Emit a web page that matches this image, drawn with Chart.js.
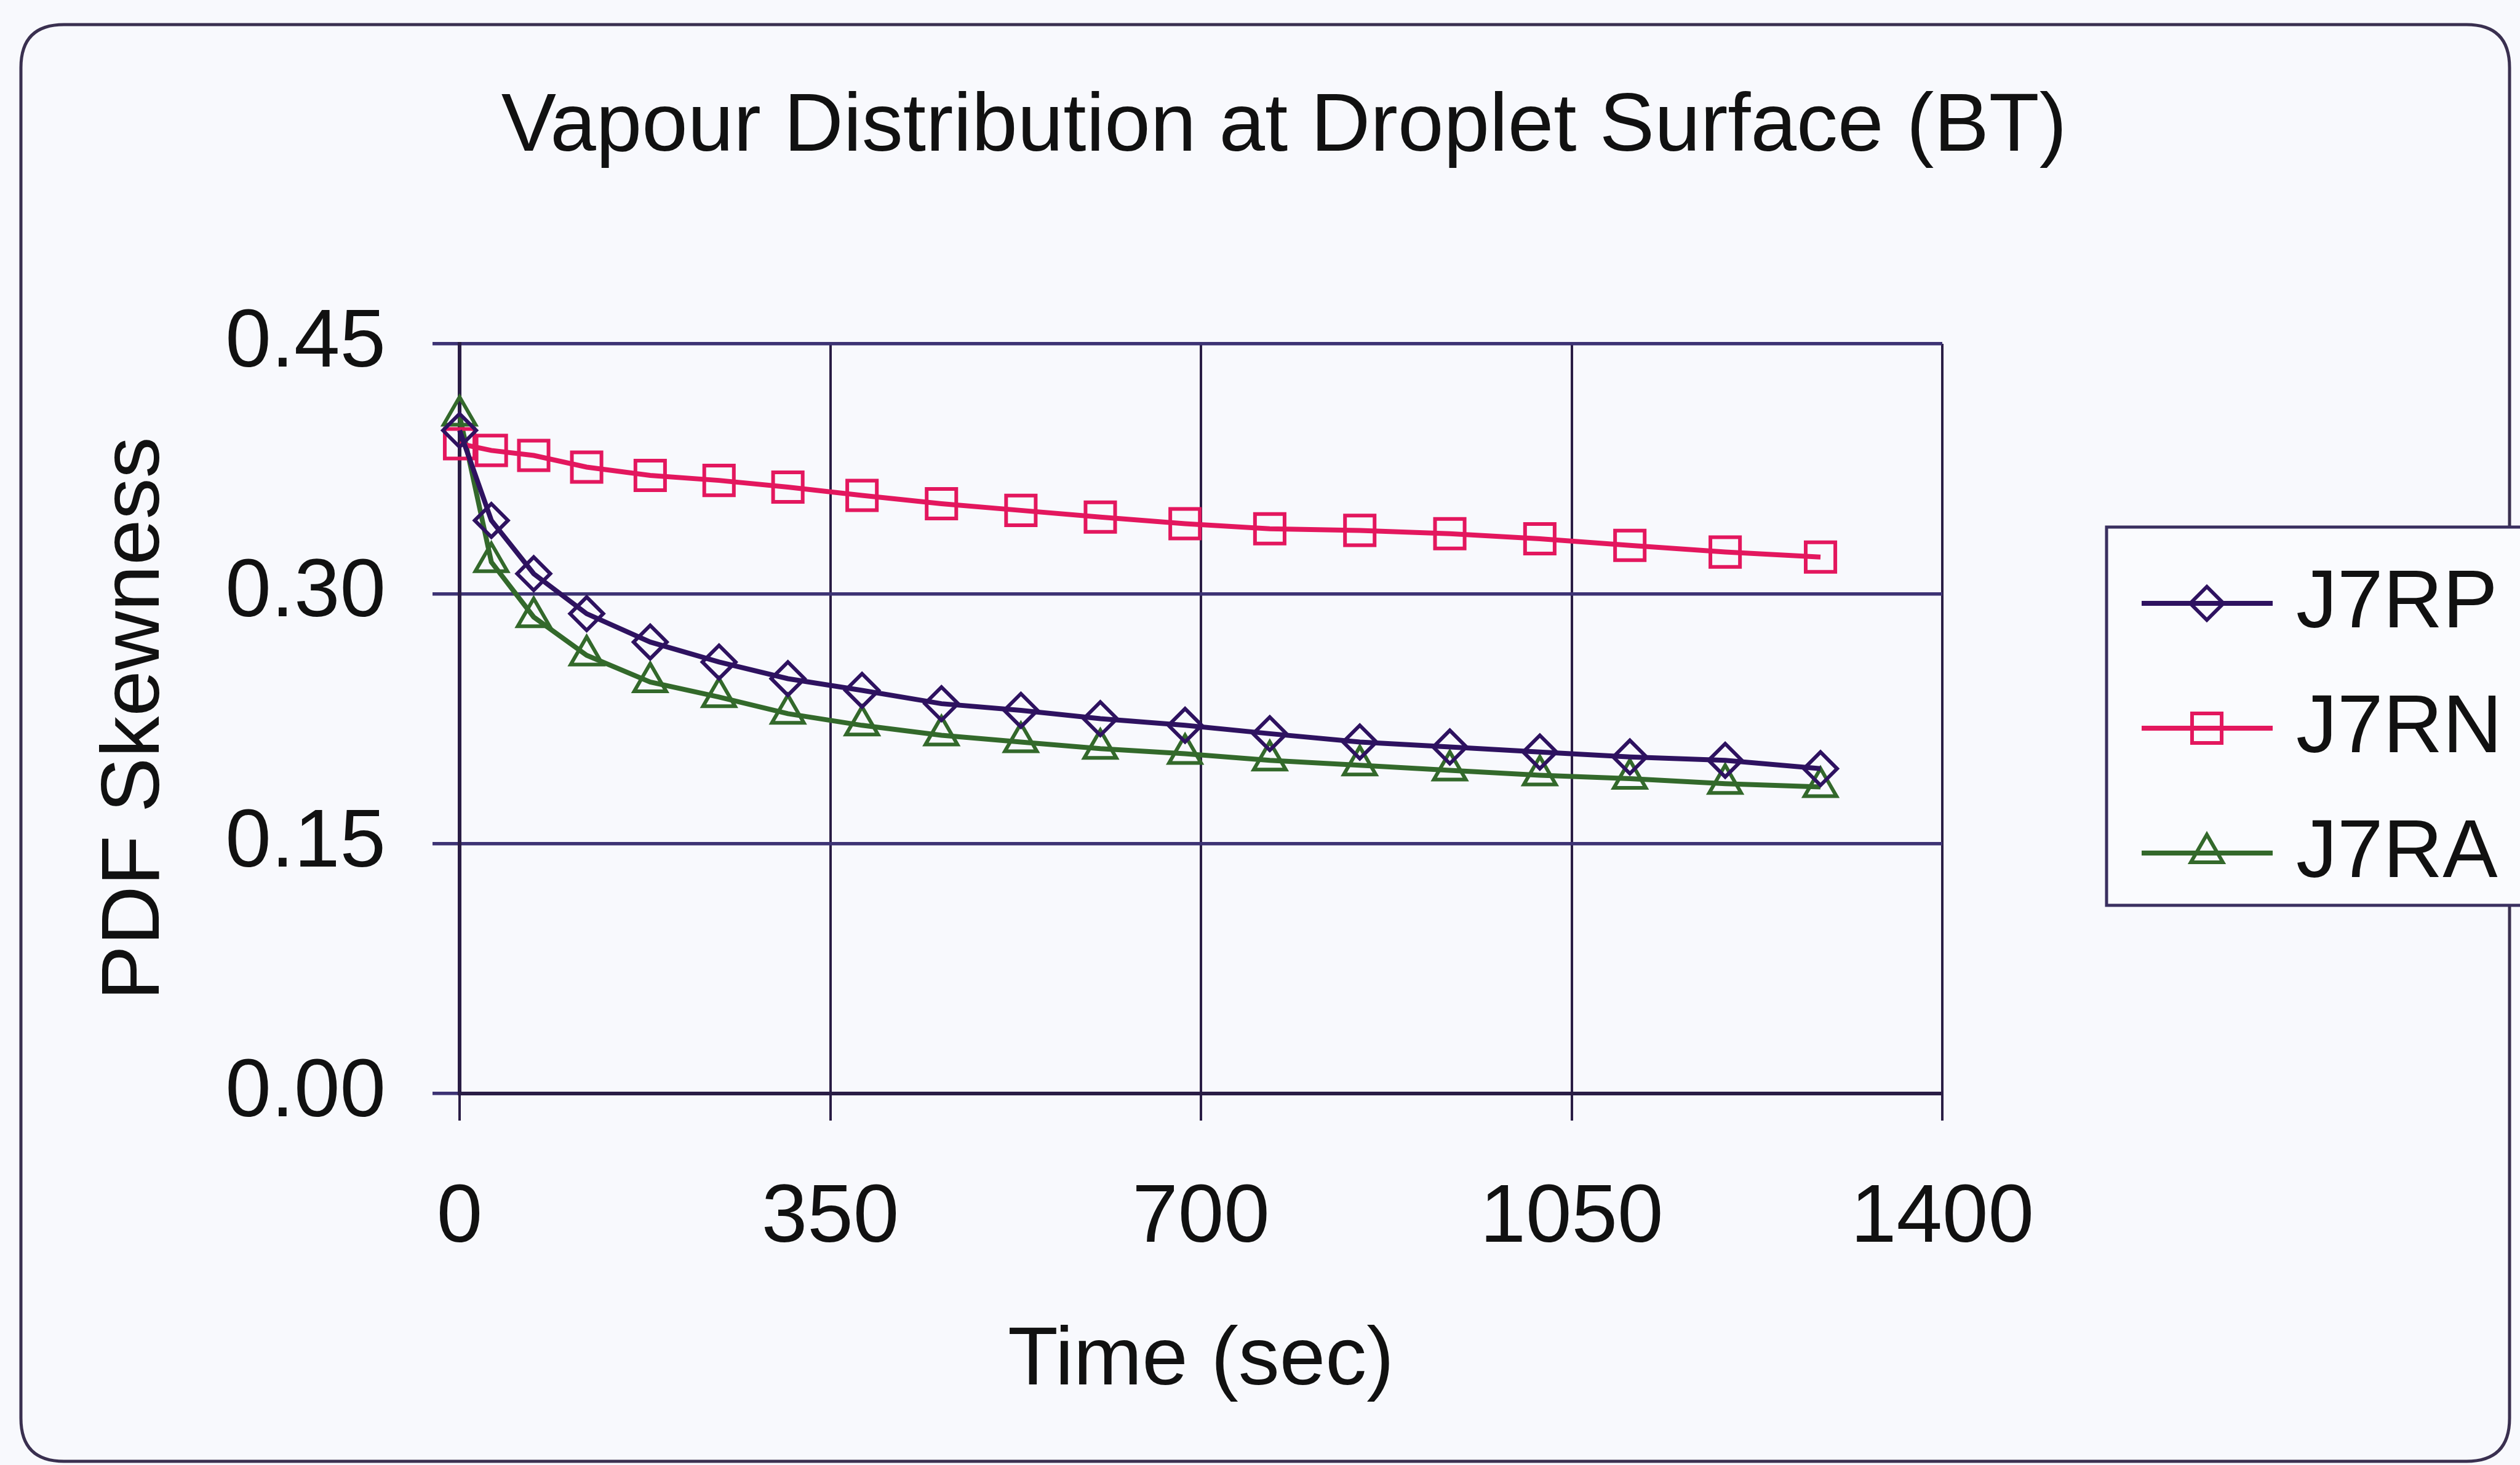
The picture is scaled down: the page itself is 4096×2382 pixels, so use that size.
<!DOCTYPE html>
<html>
<head>
<meta charset="utf-8">
<title>Vapour Distribution at Droplet Surface (BT)</title>
<script src="https://cdn.jsdelivr.net/npm/chart.js@4.4.1/dist/chart.umd.min.js"></script>
<style>
  html, body { margin: 0; padding: 0; background: #f8f9fd; }
  #wrap { width: 4096px; height: 2382px; }
</style>
</head>
<body>
<div id="wrap"><canvas id="skewChart" width="4096" height="2382"></canvas></div>
<script>
/* ============================================================
  DATA
============================================================ */
const timeSec = [0, 30, 70, 120, 180, 245, 310, 380, 455, 530, 605, 685, 765, 850, 935, 1020, 1105, 1195, 1285];

const skewJ7RP = [0.398, 0.344, 0.312, 0.288, 0.271, 0.259, 0.249, 0.242, 0.234, 0.230,
                  0.225, 0.221, 0.216, 0.211, 0.208, 0.205, 0.202, 0.200, 0.195];
const skewJ7RN = [0.390, 0.386, 0.383, 0.376, 0.371, 0.368, 0.364, 0.359, 0.354, 0.350,
                  0.346, 0.342, 0.339, 0.338, 0.336, 0.333, 0.329, 0.325, 0.322];
const skewJ7RA = [0.407, 0.319, 0.286, 0.263, 0.247, 0.238, 0.228, 0.221, 0.215, 0.211,
                  0.207, 0.204, 0.200, 0.197, 0.194, 0.191, 0.189, 0.186, 0.184];

const seriesNames = ['J7RP', 'J7RN', 'J7RA'];
const xTicks = [0, 350, 700, 1050, 1400];
const yTicks = [0.00, 0.15, 0.30, 0.45];

const chartTitle = 'Vapour Distribution at Droplet Surface (BT)';
const xTitle = 'Time (sec)';
const yTitle = 'PDF Skewness';

/* ============================================================
  STYLE
============================================================ */
const FONT = '"Liberation Sans", Arial, Helvetica, sans-serif';
const FONT_SIZE = 134;
const TEXT = '#111111';
const GRID = '#3d3374';
const AXIS = '#2a1d45';

Chart.defaults.font.family = FONT;
Chart.defaults.font.size = FONT_SIZE;
Chart.defaults.color = TEXT;

const toXY = ys => ys.map((y, i) => ({ x: timeSec[i], y }));

function lineSet(label, values, color, style, radius) {
    return {
        label,
        data: toXY(values),
        borderColor: color,
        borderWidth: 8,
        pointStyle: style,
        pointRadius: radius,
        pointBorderWidth: 6,
        pointBorderColor: color,
        pointBackgroundColor: 'rgba(0,0,0,0)',
        tension: 0,
        clip: false
    };
}

/* ============================================================
  FRAME, TITLE AND LEGEND
============================================================ */
function roundRect(ctx, x, y, w, h, r) {
    ctx.beginPath();
    ctx.moveTo(x + r, y);
    ctx.lineTo(x + w - r, y);
    ctx.quadraticCurveTo(x + w, y, x + w, y + r);
    ctx.lineTo(x + w, y + h - r);
    ctx.quadraticCurveTo(x + w, y + h, x + w - r, y + h);
    ctx.lineTo(x + r, y + h);
    ctx.quadraticCurveTo(x, y + h, x, y + h - r);
    ctx.lineTo(x, y + r);
    ctx.quadraticCurveTo(x, y, x + r, y);
    ctx.closePath();
}

const framePlugin = {
    id: 'frame',
    beforeDraw(chart) {
        const ctx = chart.ctx;
        ctx.save();
        ctx.fillStyle = '#f8f9fd';
        ctx.fillRect(0, 0, chart.width, chart.height);
        roundRect(ctx, 34, 40, 4045, 2336, 70);
        ctx.lineWidth = 5;
        ctx.strokeStyle = '#3a3050';
        ctx.stroke();
        ctx.restore();
    },
    afterDraw(chart) {
        const ctx = chart.ctx;
        ctx.save();

        // chart title
        ctx.font = `${FONT_SIZE}px ${FONT}`;
        ctx.fillStyle = TEXT;
        ctx.textAlign = 'center';
        ctx.textBaseline = 'alphabetic';
        ctx.fillText(chartTitle, 2087, 245);

        // legend box
        const box = { left: 3424, top: 857, bottom: 1472, right: 4140 };
        ctx.lineWidth = 5;
        ctx.strokeStyle = '#3a3060';
        ctx.fillStyle = '#fafbfe';
        ctx.beginPath();
        ctx.rect(box.left, box.top, box.right - box.left, box.bottom - box.top);
        ctx.fill();
        ctx.stroke();

        chart.data.datasets.forEach((ds, i) => {
            const y = box.top + 124 + i * 203;
            ctx.strokeStyle = ds.borderColor;
            ctx.lineWidth = ds.borderWidth;
            ctx.beginPath();
            ctx.moveTo(3481, y);
            ctx.lineTo(3694, y);
            ctx.stroke();

            ctx.fillStyle = ds.pointBackgroundColor;
            ctx.strokeStyle = ds.pointBorderColor;
            ctx.lineWidth = ds.pointBorderWidth;
            Chart.helpers.drawPoint(ctx, {
                pointStyle: ds.pointStyle,
                rotation: 0,
                radius: ds.pointRadius,
                borderWidth: ds.pointBorderWidth
            }, 3587, y);

            ctx.fillStyle = TEXT;
            ctx.textAlign = 'left';
            ctx.textBaseline = 'middle';
            ctx.fillText(ds.label, 3732, y + 2);
        });

        ctx.restore();
    }
};

/* ============================================================
  CHART
============================================================ */
const ctx = document.getElementById('skewChart').getContext('2d');

new Chart(ctx, {
    type: 'line',
    data: {
        datasets: [
            lineSet(seriesNames[0], skewJ7RP, '#2e1260', 'rectRot', 27),
            lineSet(seriesNames[1], skewJ7RN, '#e3175e', 'rect', 34),
            lineSet(seriesNames[2], skewJ7RA, '#33692b', 'triangle', 30)
        ]
    },
    options: {
        responsive: false,
        animation: false,
        devicePixelRatio: 1,
        layout: { padding: { left: 0, right: 939, top: 559, bottom: 0 } },
        plugins: {
            legend: { display: false },
            title: { display: false },
            tooltip: { enabled: false }
        },
        scales: {
            x: {
                type: 'linear',
                min: xTicks[0],
                max: xTicks[xTicks.length - 1],
                afterFit: s => { s.height = 604; },
                afterBuildTicks: s => { s.ticks = xTicks.map(v => ({ value: v })); },
                ticks: { padding: 80, color: TEXT, maxRotation: 0, callback: v => String(v) },
                grid: { color: AXIS, lineWidth: 4, tickLength: 44, tickColor: AXIS, tickWidth: 4 },
                border: { display: true, color: AXIS, width: 6 },
                title: {
                    display: true,
                    text: xTitle,
                    color: TEXT,
                    font: { size: FONT_SIZE },
                    padding: { top: 0, bottom: 88 }
                }
            },
            y: {
                type: 'linear',
                min: yTicks[0],
                max: yTicks[yTicks.length - 1],
                afterFit: s => { s.width = 747; },
                afterBuildTicks: s => { s.ticks = yTicks.map(v => ({ value: v })); },
                ticks: {
                    padding: 76,
                    color: TEXT,
                    callback: v => Number(v).toFixed(2)
                },
                grid: { color: GRID, lineWidth: 5.5, tickLength: 44, tickColor: GRID, tickWidth: 5.5 },
                border: { display: true, color: AXIS, width: 6 },
                title: {
                    display: true,
                    text: yTitle,
                    color: TEXT,
                    font: { size: FONT_SIZE },
                    padding: { top: 141, bottom: 0 }
                }
            }
        }
    },
    plugins: [framePlugin]
});
</script>
</body>
</html>
